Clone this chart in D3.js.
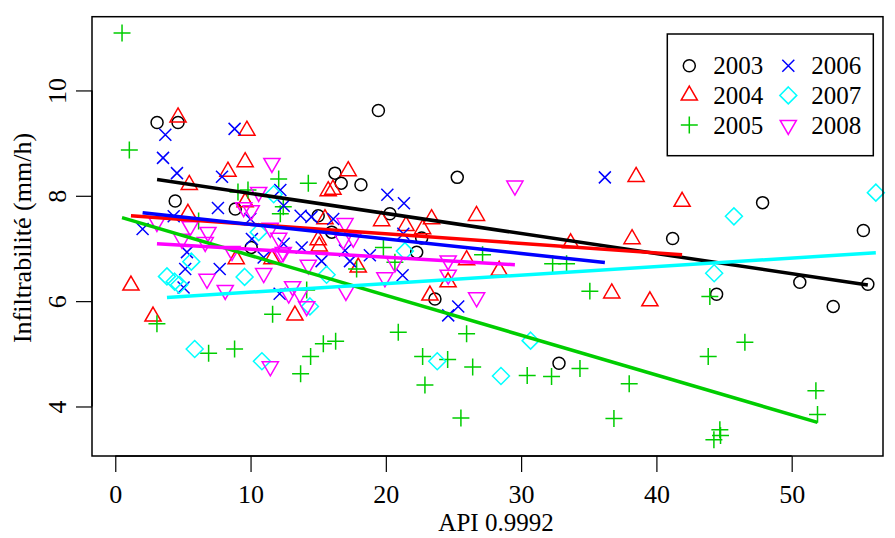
<!DOCTYPE html>
<html><head><meta charset="utf-8">
<script src="https://cdn.jsdelivr.net/npm/d3@7"></script>
<style>body{margin:0;background:#fff}svg{display:block}text{font-family:"Liberation Serif","Times New Roman",serif;fill:#000}</style>
</head><body>
<script>
const years = ["2003","2004","2005","2006","2007","2008"];
const colors = ["#000000","#FF0000","#00CD00","#0000FF","#00FFFF","#FF00FF"];
const x2003 = [3.09,4.64,4.43,19.45,16.24,16.7,18.16,25.28,20.3,8.87,10.05,16.0,22.65,22.28,23.63,32.8,41.2,47.85,44.45,50.6,53.07,55.3,55.63,15.0];
const y2003 = [9.39,9.39,7.90,9.62,8.43,8.24,8.21,8.35,7.66,7.75,7.02,7.31,7.20,6.93,6.04,4.82,7.19,7.87,6.13,6.36,5.90,7.34,6.32,7.62];
const x2004 = [4.64,9.73,9.6,8.33,5.47,5.37,9.6,8.94,11.58,1.16,2.79,17.22,15.74,16.09,15.5,19.69,23.38,21.49,22.72,15.0,15.08,17.96,24.6,25.97,23.26,13.28,26.7,38.5,38.2,33.66,28.38,36.7,39.52,41.9];
const y2004 = [9.49,9.24,8.64,8.46,8.21,7.66,7.88,6.80,6.80,6.30,5.71,8.47,8.09,8.12,7.56,7.52,7.56,7.43,7.37,7.16,7.04,6.64,6.36,6.78,6.11,5.73,7.62,8.36,7.18,7.10,6.58,6.15,6.0,7.89];
const x2005 = [0.5,1.04,3.08,6.9,8.82,11.63,9.07,9.81,12.08,12.2,6.16,14.27,19.82,20.67,17.84,12.42,14.15,20.92,25.97,13.7,14.44,15.38,16.29,22.72,24.57,22.89,25.55,26.42,30.45,32.25,34.35,37.99,36.86,35.08,27.15,32.33,33.36,43.95,43.83,46.54,51.79,51.91,44.69,44.74,44.25];
const y2005 = [11.09,8.87,5.57,5.01,5.09,5.75,8.07,8.11,8.32,7.66,7.52,8.24,7.02,6.74,6.61,7.79,6.21,5.41,5.38,4.62,4.95,5.19,5.24,4.95,4.89,4.41,3.78,4.75,4.59,4.57,4.72,4.43,3.77,6.19,6.88,6.71,6.71,6.09,4.95,5.22,4.30,3.85,3.56,3.45,3.37];
const x2006 = [3.7,3.53,8.82,4.56,7.89,7.59,4.32,2.02,12.2,12.45,9.98,10.1,5.3,5.17,7.72,5.05,10.97,12.45,12.15,20.11,21.34,13.7,14.5,16.11,21.29,13.78,16.98,18.82,15.25,17.35,21.24,25.35,24.61,36.19];
const y2006 = [9.16,8.72,9.27,8.43,8.36,7.77,7.61,7.37,8.11,7.81,7.56,7.18,6.93,6.61,6.61,6.26,6.83,7.09,6.14,8.02,7.86,7.62,7.6,7.56,7.28,7.02,6.96,6.87,6.76,6.76,6.49,5.90,5.73,8.35];
const x2007 = [11.71,10.6,5.62,3.82,4.39,4.73,9.56,5.87,10.84,15.62,14.39,21.41,23.8,30.7,28.51,45.73,44.27,56.22];
const y2007 = [8.03,7.31,6.75,6.47,6.37,6.31,6.46,5.09,4.86,6.5,5.9,6.95,4.86,5.25,4.58,7.61,6.53,8.06];
const x2008 = [11.58,3.08,5.54,10.6,9.49,10.05,6.85,4.93,6.65,8.63,11.46,12.08,12.27,10.97,6.78,8.13,12.82,11.46,16.98,16.85,17.59,12.42,14.27,17.05,13.11,13.65,14.15,19.93,20.67,24.61,24.61,26.71,29.54];
const y2008 = [8.62,7.50,7.42,8.07,7.78,7.72,7.31,7.18,7.12,6.95,7.39,7.2,6.9,6.53,6.42,6.21,6.14,4.76,7.48,7.16,7.2,6.93,6.69,6.19,6.28,6.14,5.9,6.45,6.73,6.77,6.5,6.07,8.19];
const fitIntercept = [8.427,7.640,7.622,7.735,6.009,7.135];
const fitSlope = [-0.0381,-0.0181,-0.0756,-0.0277,0.01617,-0.01504];
const xTicks = [0,10,20,30,40,50];
const yTicks = [4,6,8,10];
const xLabel = "API 0.9992";
const yLabel = "Infiltrabilité (mm/h)";

const xs = [x2003,x2004,x2005,x2006,x2007,x2008];
const ys = [y2003,y2004,y2005,y2006,y2007,y2008];

const W = 895, H = 538;
const L = 92, R = 883, T = 16.7, B = 456;
const svg = d3.select("body").append("svg").attr("width", W).attr("height", H);
const x = d3.scaleLinear().domain([-1.72, 56.75]).range([L, R]);
const y = d3.scaleLinear().domain([3.06, 11.40]).range([B, T]);

const R0 = 6;
function sym(i) {
  const p = d3.path();
  if (i === 0) { p.arc(0,0,R0,0,2*Math.PI); }
  else if (i === 1) { p.moveTo(0,-1.555*R0); p.lineTo(1.347*R0,0.778*R0); p.lineTo(-1.347*R0,0.778*R0); p.closePath(); }
  else if (i === 2) { const a = Math.SQRT2*R0; p.moveTo(-a,0); p.lineTo(a,0); p.moveTo(0,-a); p.lineTo(0,a); }
  else if (i === 3) { p.moveTo(-R0,-R0); p.lineTo(R0,R0); p.moveTo(-R0,R0); p.lineTo(R0,-R0); }
  else if (i === 4) { const a = Math.SQRT2*R0; p.moveTo(0,-a); p.lineTo(a,0); p.lineTo(0,a); p.lineTo(-a,0); p.closePath(); }
  else { p.moveTo(0,1.555*R0); p.lineTo(1.347*R0,-0.778*R0); p.lineTo(-1.347*R0,-0.778*R0); p.closePath(); }
  return p.toString();
}

// points
years.forEach((yr, i) => {
  svg.append("g").selectAll("path").data(xs[i].map((v, j) => [v, ys[i][j]]))
    .enter().append("path")
    .attr("d", sym(i))
    .attr("transform", d => `translate(${x(d[0])},${y(d[1])})`)
    .attr("fill", "none").attr("stroke", colors[i]).attr("stroke-width", 1.5);
});

// fitted lines
years.forEach((yr, i) => {
  const [mn, mx] = d3.extent(xs[i]);
  svg.append("line")
    .attr("x1", x(mn)).attr("y1", y(fitIntercept[i] + fitSlope[i]*mn))
    .attr("x2", x(mx)).attr("y2", y(fitIntercept[i] + fitSlope[i]*mx))
    .attr("stroke", colors[i]).attr("stroke-width", 3.5);
});

// box
svg.append("rect").attr("x", L).attr("y", T).attr("width", R-L).attr("height", B-T)
  .attr("fill", "none").attr("stroke", "#000").attr("stroke-width", 1.5);

// x axis
const gx = svg.append("g").attr("transform", `translate(0,${B})`)
  .call(d3.axisBottom(x).tickValues(xTicks).tickSize(16).tickPadding(12).tickFormat(d3.format("d")));
gx.select(".domain").attr("d", `M${x(0)},0H${x(50)}`).attr("stroke-width", 1.5);
gx.selectAll(".tick line").attr("stroke-width", 1.2);
gx.selectAll("text").attr("font-size", 26).attr("font-family", "Liberation Serif").attr("dy", null).attr("y", 47);

// y axis
const gy = svg.append("g").attr("transform", `translate(${L},0)`)
  .call(d3.axisLeft(y).tickValues(yTicks).tickSize(16).tickFormat(d3.format("d")));
gy.select(".domain").attr("d", `M0,${y(4)}V${y(10)}`).attr("stroke-width", 1.5);
gy.selectAll(".tick line").attr("stroke-width", 1.2);
gy.selectAll("text").attr("font-size", 26).attr("font-family", "Liberation Serif")
  .attr("x", null).attr("dy", null).attr("text-anchor", "middle")
  .attr("transform", "translate(-26,0) rotate(-90)");

// titles
svg.append("text").attr("x", 496).attr("y", 531).attr("text-anchor", "middle").attr("font-size", 25).text(xLabel);
svg.append("text").attr("transform", "translate(31,238) rotate(-90)").attr("text-anchor", "middle").attr("font-size", 26).text(yLabel);

// legend
const lg = svg.append("g");
lg.append("rect").attr("x", 667.3).attr("y", 34).attr("width", 206).attr("height", 121.7)
  .attr("fill", "#fff").attr("stroke", "#000").attr("stroke-width", 1.5);
years.forEach((yr, i) => {
  const col = Math.floor(i/3), row = i % 3;
  const cy = 65.7 + row*29.7;
  const sx = 689.3 + col*99;
  lg.append("path").attr("d", sym(i)).attr("transform", `translate(${sx},${cy})`)
    .attr("fill", "none").attr("stroke", colors[i]).attr("stroke-width", 1.5);
  lg.append("text").attr("x", 713.3 + col*98).attr("y", cy + 8.5).attr("font-size", 25).text(yr);
});
</script>
</body></html>
